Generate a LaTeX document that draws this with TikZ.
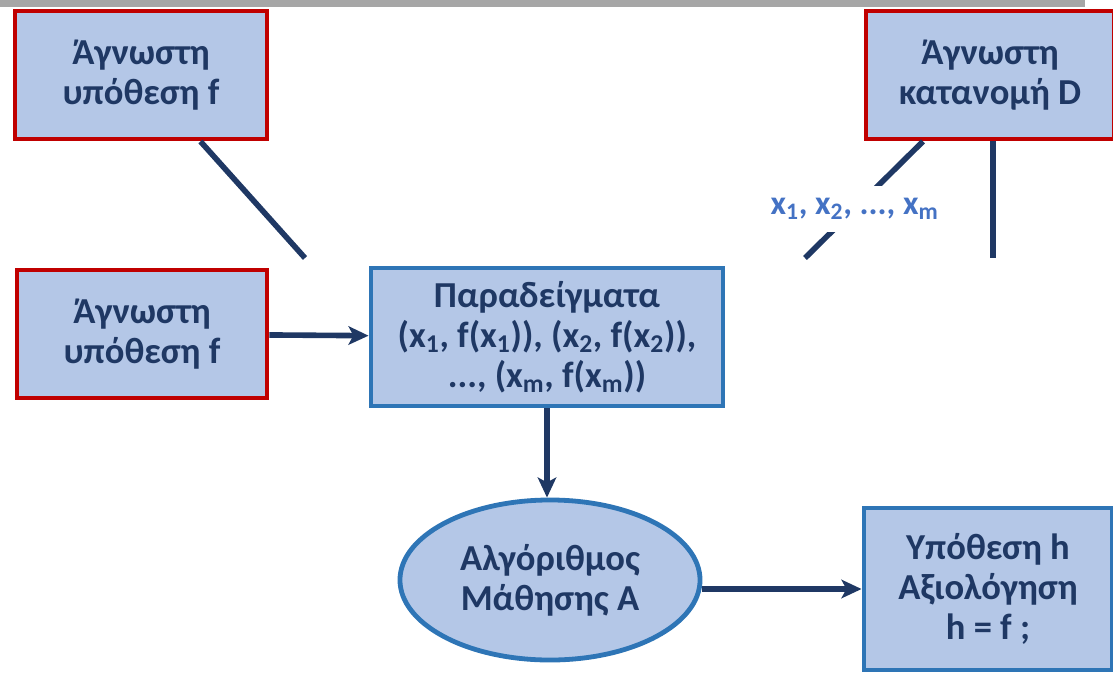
\documentclass[tikz,border=0pt]{standalone}
\usepackage{fontspec}
\setmainfont{Carlito}
\usetikzlibrary{arrows.meta,shapes.geometric,positioning}
\definecolor{boxfill}{HTML}{B4C7E7}
\definecolor{navy}{HTML}{1F3864}
\definecolor{darkred}{HTML}{C00000}
\definecolor{boxblue}{HTML}{2E75B6}
\definecolor{labelblue}{HTML}{4472C4}
\definecolor{bargray}{HTML}{A6A6A6}

\begin{document}
\begin{tikzpicture}
  [x=0.025cm,y=-0.025cm,>={Stealth[length=5mm,width=4.6mm,inset=1.2mm]},
  every node/.style={font=\fontsize{26}{28.5}\selectfont\bfseries,text=navy,align=center},
  box/.style={rectangle,fill=boxfill,line width=1.2mm,inner sep=0pt},
  unknown/.style={box,draw=darkred},
  data/.style={box,draw=boxblue},
  link/.style={draw=navy,line width=1.4mm}]
  \clip (0,0) rectangle (1113,673);
  \fill [bargray] (0,0) rectangle (1085,7);

  \node [unknown,minimum width=6.3cm,minimum height=3.2cm] (fTop) at (141,75)
  {Άγνωστη\\υπόθεση f};
  \node [unknown,minimum width=6.2cm,minimum height=3.2cm] (dist) at (990,75)
  {Άγνωστη\\κατανομή D};
  \node [unknown,minimum width=6.25cm,minimum height=3.2cm] (fLeft) at (142,334)
  {Άγνωστη\\υπόθεση f};
  \node [data,minimum width=8.8cm,minimum height=3.45cm] (examples) at (547,337)
  {Παραδείγματα\\(x\textsubscript{1}, f(x\textsubscript{1})), (x\textsubscript{2}, f(x\textsubscript{2})),\\
    ..., (x\textsubscript{m}, f(x\textsubscript{m}))};
  \node [data,ellipse,minimum width=7.5cm,minimum height=4cm] (learner) at (550,580)
  {Αλγόριθμος\\Μάθησης Α};
  \node [data,minimum width=6.2cm,minimum height=4.05cm] (hyp) at (988,589)
  {Υπόθεση h\\Αξιολόγηση\\h = f ;};

  \coordinate (cutA) at (305,258);
  \coordinate (cutB) at (805,258);
  \coordinate (cutC) at (993,258);

  \draw [link] (fTop) -- (cutA);
  \draw [link] (dist) -- node [pos=0.58,fill=white,text=labelblue,inner sep=3mm,
    font=\fontsize{24}{28}\selectfont\bfseries]
  {x\textsubscript{1}, x\textsubscript{2}, ..., x\textsubscript{m}} (cutB);
  \draw [link] (dist.south -| cutC) -- (cutC);

  \draw [link,->] (fLeft) -- (examples);
  \draw [link,->] (examples) -- (examples |- learner.north);
  \draw [link,->] (learner.east |- hyp) -- (hyp);
\end{tikzpicture}
\end{document}
